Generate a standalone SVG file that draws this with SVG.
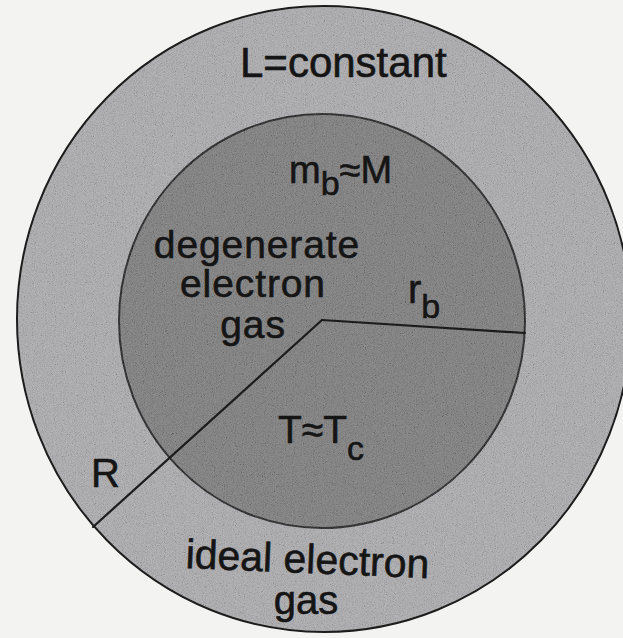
<svg xmlns="http://www.w3.org/2000/svg" width="623" height="638" viewBox="0 0 623 638">
<style>
  .lbl{font-family:"Liberation Sans",Arial,Helvetica,sans-serif;fill:#151515;stroke:#151515;stroke-width:0.6;}
  .edge{stroke:#1c1c1c;stroke-width:2;}
  .ray{stroke:#1c1c1c;stroke-width:2.2;fill:none;stroke-linecap:round;}
</style>
<defs>
  <filter id="grain" x="0" y="0" width="100%" height="100%">
    <feTurbulence type="fractalNoise" baseFrequency="1.1" numOctaves="2" seed="7"/>
    <feColorMatrix type="saturate" values="0"/>
    <feComponentTransfer>
      <feFuncR type="linear" slope="2.2" intercept="-0.6"/>
      <feFuncG type="linear" slope="2.2" intercept="-0.6"/>
      <feFuncB type="linear" slope="2.2" intercept="-0.6"/>
      <feFuncA type="linear" slope="0" intercept="1"/>
    </feComponentTransfer>
  </filter>
  <clipPath id="clipOuter"><ellipse cx="324" cy="319" rx="306" ry="312"/></clipPath>
</defs>
<rect width="623" height="638" fill="#f3f3f1"/>
<g id="outer-region">
  <ellipse class="edge" cx="324" cy="319" rx="307" ry="313" fill="#aaaaad"/>
</g>
<g id="inner-core">
  <ellipse class="edge" cx="322" cy="321" rx="203" ry="207" fill="#7a7a7a"/>
</g>
<g id="grain-texture" clip-path="url(#clipOuter)" opacity="0.16">
  <rect width="623" height="638" filter="url(#grain)"/>
</g>
<g id="connectors">
  <line class="ray" x1="322" y1="320" x2="525" y2="333"/>
  <line class="ray" x1="322" y1="320" x2="93" y2="527"/>
</g>
<g id="labels">
  <text class="lbl" x="240" y="77" font-size="42">L=constant</text>
  <text class="lbl" x="289" y="183" font-size="38">m<tspan font-size="34" dy="12">b</tspan><tspan dy="-12">≈M</tspan></text>
  <text class="lbl" x="257" y="258" font-size="39" letter-spacing="0.9" text-anchor="middle">degenerate</text>
  <text class="lbl" x="253" y="297" font-size="39" letter-spacing="0.9" text-anchor="middle">electron</text>
  <text class="lbl" x="253" y="338" font-size="39" letter-spacing="0.9" text-anchor="middle">gas</text>
  <text class="lbl" x="408" y="303" font-size="40">r<tspan font-size="34" dy="15">b</tspan></text>
  <text class="lbl" x="278" y="443" font-size="39">T≈T<tspan font-size="34" dy="17">c</tspan></text>
  <text class="lbl" x="91" y="487" font-size="40">R</text>
  <text class="lbl" x="307" y="573" font-size="41" text-anchor="middle" transform="rotate(2.4 307 573)">ideal electron</text>
  <text class="lbl" x="306" y="614" font-size="40" text-anchor="middle">gas</text>
</g>
</svg>
